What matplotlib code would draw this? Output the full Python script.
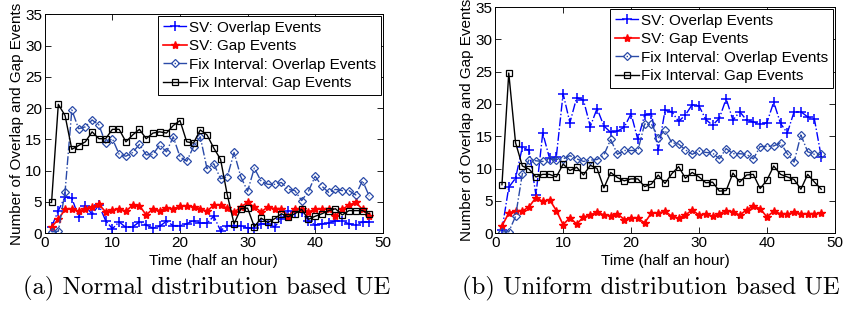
import matplotlib
matplotlib.use('Agg')
import matplotlib.pyplot as plt
import numpy as np

plt.rcParams['font.family'] = ['Liberation Sans', 'DejaVu Sans']

# time axis: half-hour slots
t = np.arange(1, 49)

labels = ['SV: Overlap Events', 'SV: Gap Events',
          'Fix Interval: Overlap Events', 'Fix Interval: Gap Events']

# (a) normal distribution based UE
normal_sv_overlap = [1.0, 3.6, 5.8, 5.6, 2.6, 4.4, 3.0, 4.5, 2.0, 0.7, 1.8, 0.9,
                     1.0, 1.8, 1.3, 0.8, 1.1, 1.9, 1.2, 1.2, 1.5, 2.0, 1.6, 1.6,
                     2.7, 0.4, 1.2, 1.2, 1.2, 0.8, 0.8, 1.5, 1.5, 1.0, 2.3, 3.6,
                     3.4, 3.3, 2.0, 1.3, 1.5, 1.6, 2.0, 1.9, 1.5, 1.3, 1.8, 1.8]
normal_sv_gap = [1.0, 2.2, 3.8, 3.9, 3.5, 3.9, 4.2, 4.6, 3.4, 3.7, 3.9, 3.5,
                 4.5, 4.4, 2.9, 3.9, 3.6, 4.0, 3.9, 4.3, 4.3, 4.2, 3.9, 3.5,
                 4.5, 4.5, 4.0, 3.3, 4.2, 4.9, 4.2, 3.4, 4.2, 3.9, 3.9, 2.6,
                 3.9, 3.9, 3.4, 3.8, 3.9, 3.9, 2.7, 3.8, 4.5, 4.9, 3.8, 2.7]
normal_fix_overlap = [0.2, 0.3, 6.6, 19.7, 16.7, 17.0, 18.1, 17.3, 14.4, 15.1, 12.6, 12.3,
                      12.9, 14.2, 12.5, 12.6, 14.1, 13.0, 15.4, 12.2, 11.5, 13.8, 15.4, 10.3,
                      11.1, 8.7, 9.0, 12.9, 9.0, 6.7, 10.4, 8.3, 7.8, 7.8, 8.1, 7.0,
                      6.8, 5.2, 6.7, 9.1, 7.5, 6.5, 7.0, 6.8, 6.8, 6.1, 8.4, 5.9]
normal_fix_gap = [4.9, 20.6, 18.8, 13.4, 14.0, 14.6, 16.2, 15.1, 15.1, 16.6, 16.6, 14.6,
                  15.7, 16.6, 15.1, 16.0, 16.2, 16.0, 17.2, 18.0, 14.6, 14.4, 16.5, 15.7,
                  13.6, 11.8, 6.1, 1.5, 3.9, 4.0, 1.0, 2.4, 1.7, 2.3, 3.1, 2.6,
                  3.1, 3.8, 2.2, 2.7, 3.1, 3.6, 3.9, 2.9, 3.6, 3.6, 3.6, 3.1]

# (b) uniform distribution based UE
uniform_sv_overlap = [0.5, 7.1, 8.5, 13.3, 12.8, 5.9, 15.5, 11.6, 11.8, 21.6, 17.1, 21.0,
                      20.6, 16.5, 19.3, 16.6, 15.6, 15.8, 16.4, 18.5, 14.5, 18.3, 18.5, 12.8,
                      19.0, 18.8, 17.3, 18.3, 19.9, 19.7, 17.6, 16.7, 17.8, 20.8, 17.5, 18.8,
                      17.5, 17.2, 16.9, 17.1, 20.3, 17.0, 15.5, 18.8, 18.8, 18.0, 17.6, 11.8]
uniform_sv_gap = [1.1, 3.1, 3.5, 3.4, 4.1, 5.5, 4.9, 5.2, 3.5, 1.3, 2.4, 1.4,
                  2.5, 2.8, 3.3, 2.8, 2.7, 3.0, 2.1, 2.4, 2.3, 1.6, 3.1, 3.1,
                  3.4, 2.6, 2.3, 2.8, 3.6, 2.8, 3.0, 2.6, 3.0, 3.5, 3.3, 2.8,
                  3.6, 4.2, 3.8, 2.5, 3.4, 3.0, 2.9, 3.3, 3.0, 3.0, 3.0, 3.1]
uniform_fix_overlap = [0.2, 0.2, 2.6, 9.2, 11.4, 11.2, 11.1, 11.4, 11.4, 11.5, 12.0, 11.5,
                       11.1, 11.3, 11.4, 12.1, 14.5, 12.2, 12.8, 12.8, 12.8, 16.9, 16.9, 14.8,
                       15.9, 14.0, 13.8, 12.9, 12.2, 12.7, 12.5, 12.4, 11.5, 13.1, 12.3, 12.3,
                       12.2, 11.5, 13.4, 13.4, 13.5, 14.0, 12.3, 11.0, 15.2, 12.6, 12.2, 12.2]
uniform_fix_gap = [7.5, 24.8, 14.0, 10.4, 9.9, 8.7, 9.1, 9.1, 8.7, 10.7, 9.7, 10.2,
                   9.0, 10.5, 10.0, 7.0, 9.4, 8.6, 8.1, 8.4, 8.4, 7.2, 7.6, 9.0,
                   7.7, 9.2, 10.3, 8.5, 9.4, 8.7, 7.8, 7.9, 6.5, 6.6, 9.3, 7.9,
                   9.0, 9.1, 6.9, 8.2, 10.4, 9.1, 8.7, 8.3, 6.8, 9.1, 7.9, 6.8]

fix_blue = '#2a4aa8'


def draw_panel(ax, sv_ov, sv_gap, fix_ov, fix_gap):
    ax.plot(t, sv_ov, color='blue', ls='-.', lw=1.0, marker='+', ms=7, mew=1.1)
    ax.plot(t, sv_gap, color='red', ls='-', lw=1.2, marker='*', ms=6)
    ax.plot(t, fix_ov, color=fix_blue, ls='-.', lw=1.0, marker='D', ms=4.5,
            mfc='none', mec=fix_blue, mew=0.9)
    ax.plot(t, fix_gap, color='black', ls='-', lw=1.0, marker='s', ms=4.5,
            mfc='none', mew=0.9)

    ax.set_xlim(0, 50)
    ax.set_ylim(0, 35)
    ax.set_xticks(range(0, 51, 10))
    ax.set_yticks(range(0, 36, 5))
    ax.tick_params(direction='in', top=True, right=True, labelsize=11,
                   length=4, width=0.6, pad=2)
    for s in ax.spines.values():
        s.set_linewidth(0.7)
    ax.set_xlabel('Time (half an hour)', fontsize=11, labelpad=3)
    ax.set_ylabel('Number of Overlap and Gap Events', fontsize=11, labelpad=1)

    leg = ax.legend(labels, loc='upper right', fontsize=11, frameon=True,
                    fancybox=False, edgecolor='black', framealpha=1,
                    handlelength=1.6, handletextpad=0.15, borderpad=0.3,
                    labelspacing=0.3, borderaxespad=0.12)
    leg.get_frame().set_linewidth(0.7)


fig = plt.figure(figsize=(8.45, 3.1), dpi=100)
ax1 = fig.add_axes([0.053, 0.248, 0.400, 0.706])
ax2 = fig.add_axes([0.586, 0.248, 0.402, 0.729])

draw_panel(ax1, normal_sv_overlap, normal_sv_gap, normal_fix_overlap, normal_fix_gap)
draw_panel(ax2, uniform_sv_overlap, uniform_sv_gap, uniform_fix_overlap, uniform_fix_gap)

fig.text(0.244, 0.068, '(a) Normal distribution based UE', family='cmr10',
         fontsize=17.8, ha='center', va='center')
fig.text(0.770, 0.068, '(b) Uniform distribution based UE', family='cmr10',
         fontsize=17.8, ha='center', va='center')

fig.savefig('out.png', dpi=100)
